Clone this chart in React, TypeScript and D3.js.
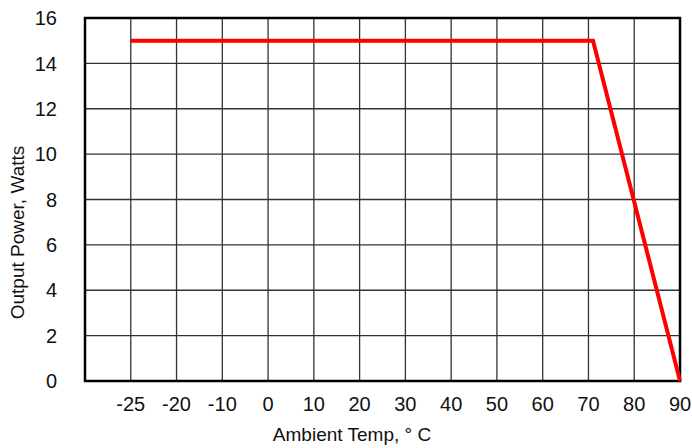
import React from "react";
import * as d3 from "d3";

const xTicks = [-25, -20, -10, 0, 10, 20, 30, 40, 50, 60, 70, 80, 90];
const yTicks = [0, 2, 4, 6, 8, 10, 12, 14, 16];
const temps = [-25, 71, 90];
const watts = [15, 15, 0];

export default function App() {
  const W = 692, H = 448;
  const left = 85, right = 680, top = 18, bottom = 381;
  const step = (right - left) / xTicks.length;
  const x = d3.scaleLinear().domain(xTicks).range(xTicks.map((_, i) => left + (i + 1) * step));
  const y = d3.scaleLinear().domain([0, 16]).range([bottom, top]);
  const line = d3.line<number>().x((_, i) => x(temps[i])).y((d) => y(d));
  const font = "'Liberation Sans', Arial, sans-serif";
  return (
    <svg width={W} height={H} style={{ position: "absolute", left: 0, top: 0, background: "#fff" }}>
      <rect x={0} y={0} width={W} height={H} fill="#fff" />
      {yTicks.slice(1, -1).map((t) => (
        <line key={"h" + t} x1={left} x2={right} y1={y(t)} y2={y(t)} stroke="#333" strokeWidth={1.3} />
      ))}
      {xTicks.map((t) => (
        <line key={"v" + t} x1={x(t)} x2={x(t)} y1={top} y2={bottom} stroke="#333" strokeWidth={1.3} />
      ))}
      <rect x={left} y={top} width={right - left} height={bottom - top} fill="none" stroke="#000" strokeWidth={2.5} />
      <path d={line(watts) || ""} fill="none" stroke="#ff0000" strokeWidth={4} strokeLinejoin="miter" />
      {yTicks.map((t) => (
        <text key={"yl" + t} x={57} y={y(t)} dy="0.36em" textAnchor="end" fontFamily={font} fontSize={20} fill="#111">
          {t}
        </text>
      ))}
      {xTicks.map((t) => (
        <text key={"xl" + t} x={x(t)} y={411} textAnchor="middle" fontFamily={font} fontSize={20} fill="#111">
          {t}
        </text>
      ))}
      <text x={352} y={441} textAnchor="middle" fontFamily={font} fontSize={19} fill="#111">
        Ambient Temp, ° C
      </text>
      <text transform={`translate(24, ${(top + bottom) / 2 + 33}) rotate(-90)`} textAnchor="middle" fontFamily={font} fontSize={19} fill="#111">
        Output Power, Watts
      </text>
    </svg>
  );
}
